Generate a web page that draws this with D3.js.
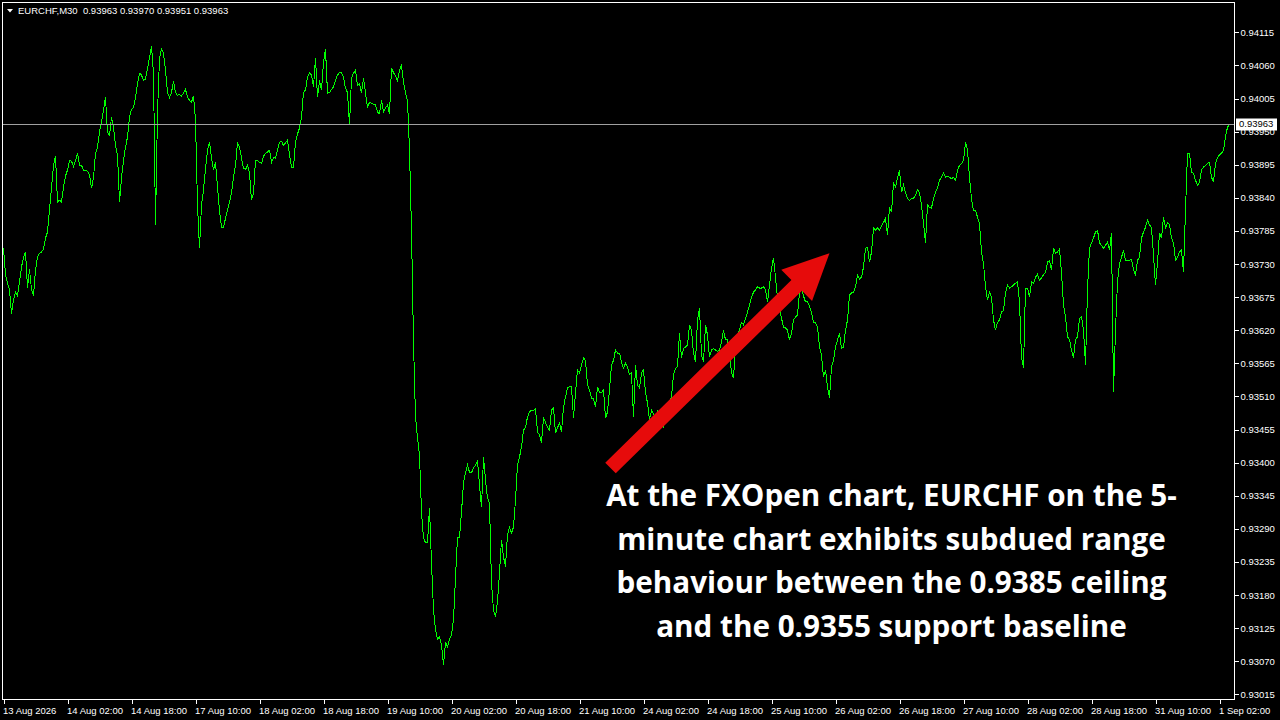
<!DOCTYPE html>
<html>
<head>
<meta charset="utf-8">
<script src="https://cdn.jsdelivr.net/npm/d3@7/dist/d3.min.js"></script>
<style>
html,body{margin:0;padding:0;background:#000;}
svg{display:block;}
</style>
</head>
<body>
<svg id="chart" width="1280" height="720"></svg>
<script>
// ---------- DATA ----------
const symbol = "EURCHF,M30";
const ohlc = [0.93963, 0.93970, 0.93951, 0.93963];
const lastPrice = 0.93963;

// M30 close prices, one per bar (oldest first)
const closes = [
0.93756,0.93712,0.93698,0.93687,0.93647,0.93670,0.93683,0.93677,0.93700,0.93725,
0.93741,0.93750,0.93690,0.93721,0.93688,0.93677,0.93720,0.93741,0.93748,0.93750,
0.93755,0.93773,0.93783,0.93821,0.93856,0.93894,0.93909,0.93833,0.93836,0.93833,
0.93858,0.93876,0.93886,0.93902,0.93901,0.93892,0.93902,0.93914,0.93894,0.93894,
0.93886,0.93886,0.93884,0.93878,0.93856,0.93873,0.93914,0.93924,0.93949,0.93967,
0.93985,0.94007,0.93949,0.93944,0.93974,0.93956,0.93927,0.93911,0.93833,0.93873,
0.93902,0.93924,0.93941,0.93974,0.93987,0.93990,0.94007,0.94030,0.94047,0.94044,
0.94035,0.94037,0.94055,0.94073,0.94092,0.94047,0.93795,0.93982,0.94072,0.94087,
0.94080,0.94052,0.94015,0.94007,0.94015,0.94034,0.94015,0.94010,0.94012,0.94009,
0.94014,0.94020,0.94007,0.94002,0.93999,0.94009,0.93969,0.93828,0.93756,0.93828,
0.93853,0.93889,0.93919,0.93932,0.93906,0.93886,0.93899,0.93858,0.93819,0.93791,
0.93791,0.93806,0.93819,0.93833,0.93848,0.93874,0.93894,0.93931,0.93924,0.93906,
0.93889,0.93887,0.93894,0.93881,0.93836,0.93848,0.93902,0.93902,0.93899,0.93897,
0.93909,0.93914,0.93916,0.93919,0.93899,0.93907,0.93906,0.93919,0.93932,0.93934,
0.93927,0.93931,0.93936,0.93911,0.93891,0.93891,0.93932,0.93946,0.93956,0.93974,
0.94015,0.94019,0.94040,0.94048,0.94044,0.94024,0.94072,0.94007,0.94035,0.94019,
0.94065,0.94087,0.94014,0.94015,0.94020,0.94024,0.94035,0.94044,0.94048,0.94048,
0.94040,0.94022,0.94015,0.93961,0.94039,0.94047,0.94052,0.94027,0.94029,0.94014,
0.94039,0.94014,0.93990,0.93999,0.93997,0.93995,0.93995,0.93982,0.93980,0.94002,
0.93982,0.93989,0.93994,0.93980,0.94055,0.94048,0.94042,0.94035,0.94052,0.94060,
0.94032,0.94014,0.94002,0.93919,0.93786,0.93600,0.93476,0.93441,0.93413,0.93318,
0.93275,0.93267,0.93267,0.93325,0.93233,0.93155,0.93122,0.93106,0.93111,0.93097,
0.93064,0.93102,0.93094,0.93106,0.93114,0.93139,0.93209,0.93275,0.93275,0.93318,
0.93366,0.93383,0.93396,0.93384,0.93383,0.93391,0.93396,0.93403,0.93363,0.93326,
0.93409,0.93371,0.93341,0.93333,0.93200,0.93155,0.93144,0.93169,0.93217,0.93272,
0.93243,0.93227,0.93280,0.93292,0.93283,0.93293,0.93338,0.93396,0.93409,0.93426,
0.93454,0.93458,0.93476,0.93484,0.93487,0.93487,0.93489,0.93451,0.93446,0.93433,
0.93474,0.93467,0.93458,0.93454,0.93487,0.93491,0.93449,0.93458,0.93466,0.93451,
0.93492,0.93509,0.93524,0.93526,0.93526,0.93474,0.93516,0.93554,0.93549,0.93562,
0.93574,0.93570,0.93529,0.93521,0.93507,0.93506,0.93492,0.93526,0.93516,0.93516,
0.93521,0.93474,0.93484,0.93521,0.93562,0.93570,0.93587,0.93582,0.93582,0.93567,
0.93557,0.93565,0.93559,0.93546,0.93549,0.93476,0.93562,0.93529,0.93524,0.93549,
0.93554,0.93516,0.93499,0.93471,0.93487,0.93481,0.93474,0.93484,0.93471,0.93464,
0.93459,0.93471,0.93487,0.93501,0.93509,0.93546,0.93557,0.93559,0.93615,0.93574,
0.93590,0.93592,0.93595,0.93629,0.93620,0.93582,0.93567,0.93637,0.93657,0.93579,
0.93567,0.93629,0.93612,0.93575,0.93587,0.93589,0.93587,0.93585,0.93587,0.93600,
0.93620,0.93604,0.93604,0.93584,0.93549,0.93541,0.93592,0.93612,0.93620,0.93633,
0.93629,0.93640,0.93650,0.93662,0.93675,0.93683,0.93687,0.93692,0.93690,0.93690,
0.93692,0.93687,0.93667,0.93695,0.93723,0.93740,0.93708,0.93673,0.93657,0.93640,
0.93625,0.93624,0.93620,0.93604,0.93615,0.93637,0.93642,0.93645,0.93682,0.93690,
0.93677,0.93667,0.93667,0.93660,0.93650,0.93632,0.93632,0.93625,0.93592,0.93579,
0.93542,0.93554,0.93526,0.93507,0.93559,0.93570,0.93592,0.93604,0.93615,0.93590,
0.93592,0.93620,0.93637,0.93678,0.93682,0.93683,0.93692,0.93712,0.93705,0.93708,
0.93725,0.93756,0.93758,0.93733,0.93750,0.93790,0.93786,0.93790,0.93786,0.93793,
0.93799,0.93806,0.93778,0.93824,0.93816,0.93864,0.93858,0.93873,0.93886,0.93849,
0.93861,0.93849,0.93839,0.93836,0.93839,0.93839,0.93844,0.93853,0.93849,0.93828,
0.93798,0.93765,0.93828,0.93824,0.93823,0.93839,0.93849,0.93856,0.93869,0.93874,
0.93881,0.93874,0.93876,0.93874,0.93872,0.93874,0.93869,0.93886,0.93894,0.93897,
0.93902,0.93932,0.93919,0.93873,0.93839,0.93819,0.93819,0.93808,0.93798,0.93750,
0.93731,0.93692,0.93670,0.93683,0.93675,0.93637,0.93620,0.93633,0.93637,0.93650,
0.93653,0.93682,0.93695,0.93690,0.93692,0.93695,0.93698,0.93700,0.93667,0.93575,
0.93557,0.93690,0.93690,0.93675,0.93700,0.93698,0.93708,0.93713,0.93703,0.93707,
0.93712,0.93716,0.93733,0.93736,0.93720,0.93756,0.93748,0.93750,0.93755,0.93716,
0.93662,0.93642,0.93609,0.93604,0.93587,0.93574,0.93604,0.93609,0.93640,0.93642,
0.93620,0.93562,0.93687,0.93756,0.93765,0.93773,0.93783,0.93786,0.93765,0.93761,
0.93756,0.93761,0.93766,0.93753,0.93781,0.93517,0.93620,0.93700,0.93730,0.93741,
0.93753,0.93736,0.93736,0.93736,0.93738,0.93720,0.93712,0.93736,0.93741,0.93773,
0.93783,0.93791,0.93803,0.93795,0.93790,0.93745,0.93695,0.93733,0.93781,0.93773,
0.93808,0.93790,0.93799,0.93795,0.93773,0.93765,0.93736,0.93741,0.93750,0.93753,
0.93716,0.93819,0.93914,0.93914,0.93882,0.93881,0.93869,0.93861,0.93866,0.93886,
0.93891,0.93894,0.93897,0.93899,0.93874,0.93866,0.93897,0.93907,0.93911,0.93914,
0.93919,0.93942,0.93957,0.93963
];

// Time-axis labels, one every 32 bars (16 trading hours)
const barsPerLabel = 32;
const xLabels = ["13 Aug 2026","14 Aug 02:00","14 Aug 18:00","17 Aug 10:00","18 Aug 02:00",
  "18 Aug 18:00","19 Aug 10:00","20 Aug 02:00","20 Aug 18:00","21 Aug 10:00",
  "24 Aug 02:00","24 Aug 18:00","25 Aug 10:00","26 Aug 02:00","26 Aug 18:00",
  "27 Aug 10:00","28 Aug 02:00","28 Aug 18:00","31 Aug 10:00","1 Sep 02:00"];

// Price-axis tick labels
const yTicks = [0.93015,0.93070,0.93125,0.93180,0.93235,0.93290,0.93345,0.93400,0.93455,0.93510,
  0.93565,0.93620,0.93675,0.93730,0.93785,0.93840,0.93895,0.93950,0.94005,0.94060,0.94115];

// Annotation: arrow (bar index, price) and caption
const arrowTail = [303.5, 0.93391];
const arrowTip  = [413, 0.93748];
const caption = [
  "At the FXOpen chart, EURCHF on the 5-",
  "minute chart exhibits subdued range",
  "behaviour between the 0.9385 ceiling",
  "and the 0.9355 support baseline"
];

// ---------- DRAW ----------
const svg = d3.select("#chart");
const W = 1280, H = 720;
const plot = {left: 2.5, top: 2.5, right: 1234.5, bottom: 699.5};
const axisFont = "'Liberation Sans', Arial, sans-serif";

svg.append("rect").attr("width", W).attr("height", H).attr("fill", "#000");

const x = d3.scaleLinear().domain([0, 613]).range([3.5, 1229.5]);
const y = d3.scaleLinear().domain([0.93015, 0.94115]).range([694.3, 32.3]);

// price line
const line = d3.line().x((d, i) => x(i)).y(d => y(d));
svg.append("path")
  .datum(closes)
  .attr("d", line)
  .attr("fill", "none")
  .attr("stroke", "#00ff00")
  .attr("stroke-width", 1)
  .attr("shape-rendering", "crispEdges");

// current price horizontal line
svg.append("line")
  .attr("x1", plot.left).attr("x2", plot.right)
  .attr("y1", Math.round(y(lastPrice)) + 0.5).attr("y2", Math.round(y(lastPrice)) + 0.5)
  .attr("stroke", "#a0a0a0").attr("stroke-width", 1)
  .attr("shape-rendering", "crispEdges");

// frame
svg.append("rect")
  .attr("x", plot.left).attr("y", plot.top)
  .attr("width", plot.right - plot.left).attr("height", plot.bottom - plot.top)
  .attr("fill", "none").attr("stroke", "#fff").attr("stroke-width", 1)
  .attr("shape-rendering", "crispEdges");

// right price axis
const yAxis = d3.axisRight(y)
  .tickValues(yTicks)
  .tickFormat(d3.format(".5f"))
  .tickSize(4)
  .tickPadding(2);
const gy = svg.append("g")
  .attr("transform", `translate(${plot.right},0)`)
  .call(yAxis);
gy.select(".domain").remove();
gy.selectAll(".tick line").attr("stroke", "#fff").attr("shape-rendering", "crispEdges");
gy.selectAll(".tick text")
  .attr("fill", "#fff")
  .style("font-family", axisFont)
  .style("font-size", "9.5px");

// bottom time axis
const xTickBars = xLabels.map((_, k) => k * barsPerLabel);
const xAxis = d3.axisBottom(x)
  .tickValues(xTickBars)
  .tickFormat((d, k) => xLabels[k])
  .tickSize(4)
  .tickPadding(4);
const gx = svg.append("g")
  .attr("transform", `translate(0,${plot.bottom})`)
  .call(xAxis);
gx.select(".domain").remove();
gx.selectAll(".tick line").attr("stroke", "#fff").attr("shape-rendering", "crispEdges");
gx.selectAll(".tick text")
  .attr("fill", "#fff")
  .attr("text-anchor", "start")
  .attr("x", -1)
  .style("font-family", axisFont)
  .style("font-size", "9.5px");

// current price tag
const tagY = Math.round(y(lastPrice)) + 0.5;
svg.append("rect")
  .attr("x", 1236).attr("y", tagY - 6)
  .attr("width", 41).attr("height", 12)
  .attr("fill", "#fff");
svg.append("text")
  .attr("x", 1239).attr("y", tagY)
  .attr("dominant-baseline", "middle")
  .attr("fill", "#000")
  .style("font-family", axisFont)
  .style("font-size", "9.5px")
  .text(d3.format(".5f")(lastPrice));

// header
svg.append("path")
  .attr("d", "M7,9 L13,9 L10,12.5 Z")
  .attr("fill", "#fff");
svg.append("text")
  .attr("x", 18).attr("y", 13.5)
  .attr("fill", "#fff")
  .style("font-family", axisFont)
  .style("font-size", "9.5px")
  .attr("xml:space", "preserve")
  .text(symbol + "  " + ohlc.map(d3.format(".5f")).join(" "));

// arrow
const T = [x(arrowTail[0]), y(arrowTail[1])];
const Hd = [x(arrowTip[0]), y(arrowTip[1])];
const dx = Hd[0] - T[0], dy = Hd[1] - T[1];
const len = Math.hypot(dx, dy);
const u = [dx / len, dy / len];
const n = [-u[1], u[0]];
const w = 7.5, hw = 22, hl = 46;
const B = [Hd[0] - u[0] * hl, Hd[1] - u[1] * hl];
const pts = [
  [T[0] + n[0] * w, T[1] + n[1] * w],
  [B[0] + n[0] * w, B[1] + n[1] * w],
  [B[0] + n[0] * hw, B[1] + n[1] * hw],
  Hd,
  [B[0] - n[0] * hw, B[1] - n[1] * hw],
  [B[0] - n[0] * w, B[1] - n[1] * w],
  [T[0] - n[0] * w, T[1] - n[1] * w]
];
svg.append("path")
  .attr("d", d3.line()(pts) + "Z")
  .attr("fill", "#e60b0b");

// caption
const capG = svg.append("g");
const baselines = [506, 549.5, 593, 637];
const capTexts = capG.selectAll("text")
  .data(caption)
  .join("text")
  .attr("x", 891.5)
  .attr("y", (d, i) => baselines[i])
  .attr("text-anchor", "middle")
  .attr("fill", "#fff")
  .style("font-family", "'Open Sans', 'Noto Sans', sans-serif")
  .style("font-weight", "700")
  .style("font-size", "28px")
  .text(d => d);
// fit first line to the reference width
const w1 = capTexts.nodes()[0].getComputedTextLength();
const fs = 28 * 571 / w1;
capTexts.style("font-size", fs.toFixed(2) + "px");
</script>
</body>
</html>
